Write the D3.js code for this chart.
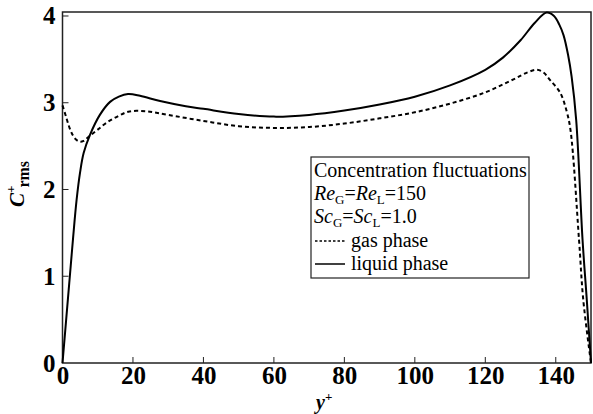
<!DOCTYPE html>
<html><head><meta charset="utf-8">
<script src="https://cdn.jsdelivr.net/npm/d3@7"></script>
<style>
html,body{margin:0;padding:0;background:#fff;}
svg{display:block;font-family:"Liberation Serif","Times New Roman",serif;}
</style></head>
<body>
<svg id="chart" width="593" height="414"></svg>
<script>
// Data
const liquidX = [0, 1, 2, 3, 4, 5, 6, 7.8, 10.6, 13.5, 16, 18.6, 22, 27.7, 35, 40, 50, 60, 70, 80, 90, 100, 110, 120, 125, 130, 134, 137.4, 139.5, 141, 142.2, 143.5, 144.5, 145.8, 147.6, 148.8, 150];
const liquidY = [0, 0.48, 0.96, 1.44, 1.88, 2.2, 2.42, 2.63, 2.86, 3.01, 3.07, 3.10, 3.08, 3.02, 2.96, 2.93, 2.87, 2.84, 2.86, 2.91, 2.98, 3.07, 3.20, 3.38, 3.52, 3.72, 3.92, 4.04, 4.00, 3.90, 3.78, 3.55, 3.30, 2.80, 1.42, 0.73, 0];
const gasX = [0, 1, 2, 3, 4, 5, 6, 7.8, 10, 12.5, 16, 19, 24, 30, 40, 50, 60, 70, 80, 90, 100, 110, 120, 128, 132, 134.6, 136.5, 138.4, 141.2, 143.1, 144.2, 146.6, 147.8, 150];
const gasY = [2.97, 2.84, 2.71, 2.62, 2.57, 2.55, 2.56, 2.62, 2.69, 2.77, 2.85, 2.90, 2.90, 2.86, 2.79, 2.73, 2.71, 2.72, 2.76, 2.82, 2.89, 2.99, 3.12, 3.27, 3.35, 3.38, 3.35, 3.26, 3.12, 2.90, 2.68, 1.42, 0.73, 0];
const xTicks = [0, 20, 40, 60, 80, 100, 120, 140];
const yTicks = [0, 1, 2, 3, 4];
const legendTitle = "Concentration fluctuations";
const legendSeries = ["gas phase", "liquid phase"];

const svg = d3.select("#chart");
const x = d3.scaleLinear().domain([0, 150]).range([62.5, 591]);
const y = d3.scaleLinear().domain([0, 4.046]).range([363, 12]);

const g = svg.append("g");

// frame
g.append("rect").attr("x", x(0)).attr("y", y(4.046)).attr("width", x(150) - x(0)).attr("height", y(0) - y(4.046))
  .attr("fill", "none").attr("stroke", "#222").attr("stroke-width", 1.5);

// x axis
const xAxis = d3.axisBottom(x).tickValues(xTicks).tickSize(0).tickPadding(3).tickFormat(d3.format("d"));
const xa = g.append("g").attr("transform", `translate(0,${y(0)})`).call(xAxis);
xa.attr("font-family", null).attr("font-size", null);
xa.select(".domain").remove();
xa.selectAll("text").attr("font-family", "Liberation Serif").attr("font-weight", "bold").attr("font-size", 25).attr("fill", "#000");
g.selectAll(".xtick").data(xTicks.filter(d => d > 0)).join("line").attr("class", "xtick")
  .attr("x1", d => x(d)).attr("x2", d => x(d)).attr("y1", y(0)).attr("y2", y(0) - 6)
  .attr("stroke", "#222").attr("stroke-width", 1);

// y axis
const yAxis = d3.axisLeft(y).tickValues(yTicks).tickSize(0).tickPadding(7).tickFormat(d3.format("d"));
const ya = g.append("g").attr("transform", `translate(${x(0)},0)`).call(yAxis);
ya.attr("font-family", null).attr("font-size", null);
ya.select(".domain").remove();
ya.selectAll("text").attr("font-family", "Liberation Serif").attr("font-weight", "bold").attr("font-size", 25).attr("fill", "#000");
g.selectAll(".ytick").data(yTicks.filter(d => d > 0)).join("line").attr("class", "ytick")
  .attr("x1", x(0)).attr("x2", x(0) + 6).attr("y1", d => y(d)).attr("y2", d => y(d))
  .attr("stroke", "#222").attr("stroke-width", 1);

// lines
const line = d3.line().x(d => x(d[0])).y(d => y(d[1])).curve(d3.curveCatmullRom.alpha(0.5));
const gasData = gasX.map((v, i) => [v, gasY[i]]);
const liqData = liquidX.map((v, i) => [v, liquidY[i]]);
g.append("path").datum(gasData).attr("d", line).attr("fill", "none").attr("stroke", "#000")
  .attr("stroke-width", 2).attr("stroke-dasharray", "4,3");
g.append("path").datum(liqData).attr("d", line).attr("fill", "none").attr("stroke", "#000")
  .attr("stroke-width", 2);

// axis titles
const yl = svg.append("text").attr("transform", "translate(24,207) rotate(-90)")
  .attr("font-size", 21).attr("font-weight", "bold").attr("fill", "#000");
yl.append("tspan").attr("font-style", "italic").text("C");
yl.append("tspan").attr("font-size", 13).attr("dy", -9).text("+");
yl.append("tspan").attr("font-size", 16).attr("dy", 14).attr("dx", -2).text("rms");

const xl = svg.append("text").attr("x", 316).attr("y", 409)
  .attr("font-size", 20).attr("font-weight", "bold").attr("fill", "#000");
xl.append("tspan").attr("font-style", "italic").text("y");
xl.append("tspan").attr("font-size", 13).attr("dy", -8).text("+");

// legend
const lx = 311, ly = 157, lw = 218, lh = 121;
const leg = svg.append("g");
leg.append("rect").attr("x", lx).attr("y", ly).attr("width", lw).attr("height", lh)
  .attr("fill", "#fff").attr("stroke", "#222").attr("stroke-width", 1.2);
const fs = 20;
leg.append("text").attr("x", lx + 3).attr("y", ly + 20).attr("font-size", fs).text(legendTitle);
const t2 = leg.append("text").attr("x", lx + 3).attr("y", ly + 43).attr("font-size", fs);
t2.append("tspan").attr("font-style", "italic").text("Re");
t2.append("tspan").attr("font-size", 13).attr("dy", 4).text("G");
t2.append("tspan").attr("dy", -4).text("=");
t2.append("tspan").attr("font-style", "italic").text("Re");
t2.append("tspan").attr("font-size", 13).attr("dy", 4).text("L");
t2.append("tspan").attr("dy", -4).text("=150");
const t3 = leg.append("text").attr("x", lx + 3).attr("y", ly + 66).attr("font-size", fs);
t3.append("tspan").attr("font-style", "italic").text("Sc");
t3.append("tspan").attr("font-size", 13).attr("dy", 4).text("G");
t3.append("tspan").attr("dy", -4).text("=");
t3.append("tspan").attr("font-style", "italic").text("Sc");
t3.append("tspan").attr("font-size", 13).attr("dy", 4).text("L");
t3.append("tspan").attr("dy", -4).text("=1.0");
legendSeries.forEach((s, i) => {
  const yy = ly + 90 + i * 23;
  leg.append("line").attr("x1", lx + 4).attr("x2", lx + 34).attr("y1", yy - 6).attr("y2", yy - 6)
    .attr("stroke", "#000").attr("stroke-width", 1.5)
    .attr("stroke-dasharray", i === 0 ? "2.5,2" : null);
  leg.append("text").attr("x", lx + 40).attr("y", yy).attr("font-size", fs).text(s);
});
</script>
</body></html>
